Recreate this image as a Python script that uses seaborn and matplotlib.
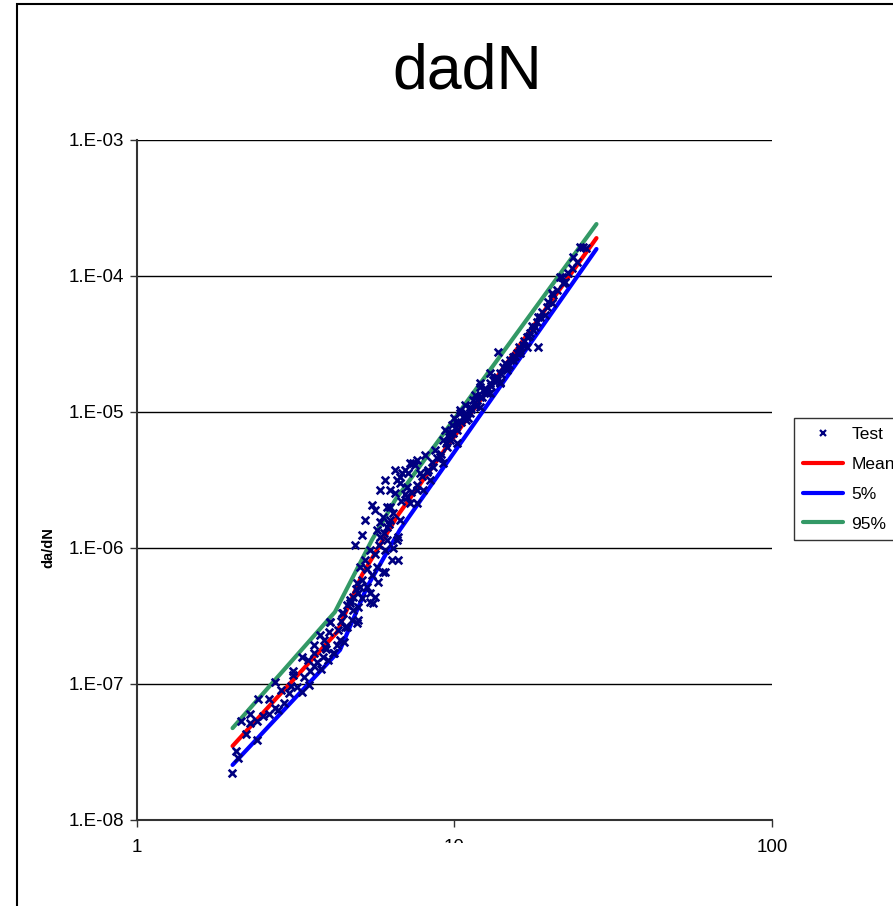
import matplotlib
matplotlib.use("Agg")
import matplotlib.pyplot as plt
import seaborn as sns
import pandas as pd
from matplotlib.patches import Rectangle
from matplotlib.lines import Line2D

# test points (delta K, da/dN)
test_x = [
    1.99, 2.08, 2.39, 2.13, 2.27, 2.39, 2.27, 2.60, 2.78, 2.72, 2.60, 2.40, 2.72, 2.84,
    3.01, 3.05, 3.31, 3.36, 3.48, 3.10, 3.10, 3.31, 3.46, 3.61, 3.61, 3.80, 3.85, 3.88,
    4.02, 4.05, 4.17, 4.27, 4.49, 4.42, 4.52, 4.93, 4.69, 4.97, 5.42, 5.53, 5.04, 4.79,
    7.51, 7.14, 6.73, 6.27, 5.95, 5.70, 6.13, 6.59, 6.40, 6.04, 5.62, 5.42, 5.04, 4.93,
    5.30, 4.79, 4.46, 4.58, 4.97, 4.05, 4.36, 3.91, 4.14, 5.83, 5.62, 6.27, 6.83, 7.24,
    7.62, 7.09, 6.73, 6.13, 5.42, 5.23, 5.70, 6.04, 4.97, 4.69,
    6.59, 6.73, 7.40, 7.62, 6.50, 6.13, 6.27, 6.64, 5.83, 5.95, 7.62, 8.37, 9.00, 9.68,
    10.2, 10.9, 12.0, 12.9, 13.9, 11.4, 10.4, 9.47, 8.56, 7.96, 7.24, 7.79, 7.09, 12.0,
    13.6, 11.2, 10.2, 9.20,
    13.7, 18.3, 23.6, 23.5, 21.5, 22.0, 20.4, 20.3, 18.6, 18.2, 17.7, 16.9, 16.4, 15.7,
    15.0, 14.2, 13.6, 12.9, 12.3, 11.8, 11.2, 10.6, 10.2, 9.68, 9.20, 15.3, 16.1, 14.6,
    13.9, 12.7, 12.0, 10.9, 10.4, 12.0, 12.9,
    24.9, 25.4, 24.3, 21.8, 22.3, 20.3, 19.7, 19.6, 18.3, 17.9, 17.3, 16.9, 16.1, 15.3,
    14.6, 13.9, 13.2, 12.7,
    8.08, 8.68, 8.25, 9.33, 9.82, 10.8, 11.6, 10.0, 6.99, 6.50, 6.04, 5.83, 5.50, 5.23,
    5.11, 4.86, 6.36, 6.64, 5.50, 5.11, 5.74, 4.75, 4.30, 3.77, 3.61, 4.00,
    7.3, 7.6, 7.9, 8.2, 8.5, 8.8, 9.1, 9.4, 9.6, 9.9, 10.1, 10.5, 10.7, 11.0,
    11.3, 11.7, 12.2, 12.5, 13.0, 13.4, 14.0, 14.4, 14.8, 15.5, 16.0, 16.6, 17.2, 17.6,
    18.9, 19.3, 21.0, 22.8, 26.0,
    5.6, 5.8, 6.0, 6.2, 6.4, 6.8, 7.0, 5.3, 5.1, 4.9, 4.6, 4.4,
    2.2, 2.5, 2.9, 3.2, 3.5, 3.7, 3.95, 2.05,
]
test_y = [
    2.22e-8, 2.86e-8, 3.87e-8, 5.35e-8, 6.01e-8, 5.35e-8, 5.17e-8, 6.01e-8, 6.44e-8, 6.67e-8, 7.76e-8, 7.76e-8, 1.03e-7, 9.04e-8,
    8.59e-8, 9.66e-8, 8.73e-8, 1.12e-7, 9.84e-8, 1.16e-7, 1.25e-7, 1.58e-7, 1.50e-7, 1.36e-7, 1.69e-7, 1.29e-7, 1.58e-7, 2.11e-7,
    2.41e-7, 2.86e-7, 1.69e-7, 1.94e-7, 2.04e-7, 3.33e-7, 2.62e-7, 2.81e-7, 3.94e-7, 3.68e-7, 4.67e-7, 3.94e-7, 5.16e-7, 4.36e-7,
    4.08e-6, 3.56e-6, 3.01e-6, 2.00e-6, 1.69e-6, 1.36e-6, 1.15e-6, 1.15e-6, 1.00e-6, 6.67e-7, 4.36e-7, 4.01e-7, 7.25e-7, 5.53e-7,
    5.16e-7, 3.50e-7, 3.33e-7, 2.62e-7, 2.96e-7, 2.86e-7, 2.11e-7, 1.87e-7, 1.69e-7, 1.55e-6, 1.90e-6, 2.67e-6, 3.56e-6, 4.22e-6,
    2.67e-6, 2.37e-6, 1.61e-6, 1.43e-6, 9.67e-7, 8.16e-7, 7.25e-7, 9.67e-7, 4.67e-7, 4.15e-7,
    3.16e-6, 3.33e-6, 4.22e-6, 4.44e-6, 2.54e-6, 2.00e-6, 1.61e-6, 1.21e-6, 1.21e-6, 6.67e-7, 2.14e-6, 3.16e-6, 4.67e-6, 6.22e-6,
    7.37e-6, 8.73e-6, 1.09e-5, 1.38e-5, 1.63e-5, 1.23e-5, 9.84e-6, 5.53e-6, 3.94e-6, 2.67e-6, 2.14e-6, 3.56e-6, 2.81e-6, 1.53e-5,
    1.72e-5, 9.84e-6, 5.92e-6, 4.22e-6,
    2.76e-5, 3.01e-5, 1.38e-4, 1.15e-4, 9.83e-5, 8.88e-5, 7.25e-5, 6.33e-5, 5.00e-5, 4.59e-5, 4.01e-5, 3.56e-5, 3.11e-5, 2.72e-5,
    2.41e-5, 2.14e-5, 1.81e-5, 1.63e-5, 1.45e-5, 1.23e-5, 1.09e-5, 9.19e-6, 8.30e-6, 7.01e-6, 6.22e-6, 2.54e-5, 2.86e-5, 2.04e-5,
    1.66e-5, 1.38e-5, 1.29e-5, 9.84e-6, 1.03e-5, 1.63e-5, 1.94e-5,
    1.63e-4, 1.63e-4, 1.27e-4, 9.83e-5, 9.03e-5, 7.50e-5, 6.44e-5, 5.91e-5, 5.00e-5, 4.22e-5, 3.81e-5, 3.01e-5, 2.72e-5, 2.41e-5,
    2.14e-5, 1.94e-5, 1.72e-5, 1.45e-5,
    4.83e-6, 5.26e-6, 3.75e-6, 7.37e-6, 8.02e-6, 1.12e-5, 1.33e-5, 9.04e-6, 3.75e-6, 3.75e-6, 3.16e-6, 2.67e-6, 2.07e-6, 1.61e-6,
    1.25e-6, 1.05e-6, 8.16e-7, 8.16e-7, 6.33e-7, 4.29e-7, 5.62e-7, 2.96e-7, 2.49e-7, 2.29e-7, 1.94e-7, 1.50e-7,
    2.6e-6, 2.9e-6, 3.4e-6, 3.6e-6, 4.3e-6, 4.6e-6, 4.9e-6, 5.9e-6, 6.6e-6, 7.0e-6, 7.8e-6, 8.4e-6, 9.4e-6, 9.0e-6,
    1.05e-5, 1.1e-5, 1.3e-5, 1.45e-5, 1.55e-5, 1.75e-5, 1.9e-5, 2.3e-5, 2.2e-5, 2.6e-5, 3.0e-5, 3.3e-5, 3.6e-5, 4.3e-5,
    5.4e-5, 5.2e-5, 7.9e-5, 1.05e-4, 1.6e-4,
    9.0e-7, 1.05e-6, 1.3e-6, 1.5e-6, 1.8e-6, 2.2e-6, 2.5e-6, 7.0e-7, 5.8e-7, 5.0e-7, 3.8e-7, 2.9e-7,
    4.3e-8, 5.8e-8, 7.3e-8, 9.5e-8, 1.25e-7, 1.45e-7, 1.8e-7, 3.2e-8,
]

# fitted curves
mean_x = [2.0, 4.27, 5.11, 6.64, 28.0]
mean_y = [3.50e-8, 2.41e-7, 6.33e-7, 1.75e-6, 1.90e-4]
p5_x = [2.0, 4.36, 5.30, 6.73, 28.0]
p5_y = [2.54e-8, 1.78e-7, 5.16e-7, 1.36e-6, 1.58e-4]
p95_x = [2.0, 4.20, 5.50, 6.50, 28.0]
p95_y = [4.74e-8, 3.38e-7, 1.15e-6, 2.25e-6, 2.41e-4]

sns.set_style("white")
plt.rcParams["font.family"] = ["Liberation Sans", "DejaVu Sans"]
plt.rcParams["text.color"] = "black"
plt.rcParams["axes.labelcolor"] = "black"
plt.rcParams["xtick.color"] = "black"
plt.rcParams["ytick.color"] = "black"

fig = plt.figure(figsize=(8.93, 9.06), dpi=100)
ax = fig.add_axes([137 / 893, 1 - 820 / 906, 635 / 893, 680 / 906])

df = pd.DataFrame({"dK": test_x, "dadN": test_y})

sns.lineplot(x=mean_x, y=mean_y, color="#ff0000", lw=3, sort=False, estimator=None, ax=ax, zorder=2)
sns.lineplot(x=p5_x, y=p5_y, color="#0000ff", lw=3, sort=False, estimator=None, ax=ax, zorder=2)
sns.lineplot(x=p95_x, y=p95_y, color="#339966", lw=3, sort=False, estimator=None, ax=ax, zorder=2)
sns.scatterplot(data=df, x="dK", y="dadN", marker="x", color="#000080", s=30, linewidth=1.9, ax=ax, zorder=3)

ax.set_xscale("log")
ax.set_yscale("log")
ax.set_xlim(1, 100)
ax.set_ylim(1e-8, 1e-3)
ax.set_xticks([1, 10, 100])
ax.set_xticklabels(["1", "10", "100"])
ax.set_yticks([1e-8, 1e-7, 1e-6, 1e-5, 1e-4, 1e-3])
ax.set_yticklabels(["1.E-08", "1.E-07", "1.E-06", "1.E-05", "1.E-04", "1.E-03"])
ax.minorticks_off()
ax.tick_params(axis="both", which="major", direction="out", length=5, width=1,
               color="#333333", labelcolor="black", labelsize=13.5, pad=4, left=True, bottom=True)
ax.tick_params(axis="x", pad=9)
ax.yaxis.grid(True, color="black", lw=1)
ax.set_axisbelow(True)
for s in ["top", "right"]:
    ax.spines[s].set_visible(False)
for s in ["left", "bottom"]:
    ax.spines[s].set_color("#333333")
    ax.spines[s].set_linewidth(1.5)

ax.set_xlabel("")
ax.set_ylabel("da/dN", fontsize=10.5, fontweight="bold", color="black")
ax.yaxis.set_label_coords(-0.128, 0.40)

fig.text(467 / 893, 1 - 72 / 906, "dadN", fontsize=45, ha="center", va="center", color="black")

handles = [
    Line2D([], [], marker="x", ls="none", color="#000080", markersize=5, mew=1.6),
    Line2D([], [], color="#ff0000", lw=3),
    Line2D([], [], color="#0000ff", lw=3),
    Line2D([], [], color="#339966", lw=3),
]
leg = fig.legend(handles, ["Test", "Mean", "5%", "95%"], loc="upper left",
                 bbox_to_anchor=(794 / 893, 1 - 418 / 906), fontsize=12.5,
                 frameon=True, fancybox=False, edgecolor="black", borderpad=0.5,
                 handlelength=2.3, handletextpad=0.5, labelspacing=0.85, borderaxespad=0)
leg.get_frame().set_linewidth(1)
for t in leg.get_texts():
    t.set_color("black")

# chart frame and the blank patch over the "10" label
fig.patches.append(Rectangle((17 / 893, -0.1), 1.2, 1 - 4 / 906 + 0.1, transform=fig.transFigure,
                             fill=False, edgecolor="black", lw=1.5, zorder=0))
fig.patches.append(Rectangle((425 / 893, 1 - 875 / 906), 60 / 893, 32 / 906, transform=fig.transFigure,
                             facecolor="white", edgecolor="none", zorder=10))

fig.savefig("out.png", dpi=100, facecolor="white")
